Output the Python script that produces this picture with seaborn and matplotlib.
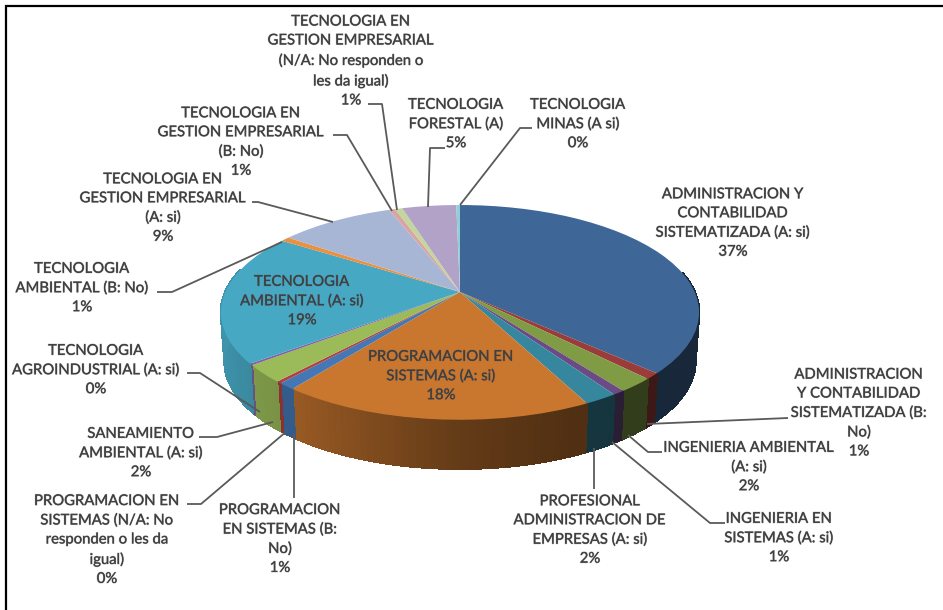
import numpy as np
import matplotlib
matplotlib.use("Agg")
import matplotlib.pyplot as plt
import matplotlib.patheffects as pe
from matplotlib.collections import PolyCollection
from matplotlib.colors import to_rgb
from matplotlib.transforms import Transform
import seaborn as sns

# ---- data ----
labels = [
    "ADMINISTRACION Y\nCONTABILIDAD\nSISTEMATIZADA (A: si)\n37%",
    "ADMINISTRACION\nY CONTABILIDAD\nSISTEMATIZADA (B:\nNo)\n1%",
    "INGENIERIA AMBIENTAL\n(A: si)\n2%",
    "INGENIERIA EN\nSISTEMAS (A: si)\n1%",
    "PROFESIONAL\nADMINISTRACION DE\nEMPRESAS (A: si)\n2%",
    "PROGRAMACION EN\nSISTEMAS (A: si)\n18%",
    "PROGRAMACION\nEN SISTEMAS (B:\nNo)\n1%",
    "PROGRAMACION EN\nSISTEMAS (N/A: No\nresponden o les da\nigual)\n0%",
    "SANEAMIENTO\nAMBIENTAL (A: si)\n2%",
    "TECNOLOGIA\nAGROINDUSTRIAL (A: si)\n0%",
    "TECNOLOGIA\nAMBIENTAL (A: si)\n19%",
    "TECNOLOGIA\nAMBIENTAL (B: No)\n1%",
    "TECNOLOGIA EN\nGESTION EMPRESARIAL\n(A: si)\n9%",
    "TECNOLOGIA EN\nGESTION EMPRESARIAL\n(B: No)\n1%",
    "TECNOLOGIA EN\nGESTION EMPRESARIAL\n(N/A: No responden o\nles da igual)\n1%",
    "TECNOLOGIA\nFORESTAL (A)\n5%",
    "TECNOLOGIA\nMINAS (A si)\n0%",
]
values = [37.0, 0.9, 2.1, 0.7, 1.9, 17.8, 1.0, 0.3, 2.6, 0.25, 19.7, 0.7, 9.3, 0.5, 0.6, 4.4, 0.3]

# ---- styling and layout ----
slice_colors = ["#3E6797", "#9A3D3A", "#7F9C45", "#6A4B85", "#36879E", "#C9772F",
                "#4477B4", "#B04040", "#9BBB59", "#8064A2", "#47A8C3", "#EC8F3F",
                "#A6B6D4", "#D9A5A4", "#C3D69B", "#B3A2C7", "#92CDDC"]
label_xy = [(733, 223), (859, 413), (749, 467), (779, 538), (590, 530), (441, 376),
            (280, 539), (107, 540), (141, 453), (96, 370), (302, 301), (82, 288),
            (163, 208), (241, 142), (351, 61), (456, 124), (578, 124)]
leaders = [
    [(788, 418), (647, 424)],
    [(662, 452), (648, 452), (628, 435)],
    [(725, 523), (710, 523), (612, 442)],
    [(594, 489), (594, 448)],
    [(294, 498), (294, 433)],
    [(187, 504), (201, 504), (287, 431)],
    [(199, 437), (217, 437), (273, 422)],
    [(187, 373), (200, 373), (260, 412)],
    [(157, 292), (172, 292), (282, 242)],
    [(252, 202), (258, 202), (333, 222)],
    [(333, 135), (347, 135), (392, 211)],
    [(368, 104), (382, 104), (397, 210)],
    [(445, 148), (430, 148), (428, 207)],
    [(532, 128), (520, 128), (460, 205)],
]
CX, CY = 460.0, 292.0     # pie apex in pixels
AX, BY, K = 234.7, 103.5, 0.19   # perspective of the tilted disc
DEPTH, BOTTOM_SCALE = 49.0, 0.985
TEXT = "#404040"
LINE = "#5A5A5A"

sns.set_theme(style="white")
plt.rcParams["font.family"] = ["Lato", "DejaVu Sans"]
palette = sns.color_palette(slice_colors)


class Tilt(Transform):
    input_dims = output_dims = 2

    def transform_non_affine(self, v):
        v = np.asarray(v, float)
        d = 1 + K * v[:, 1]
        return np.column_stack([CX + AX * v[:, 0] / d, CY - BY * v[:, 1] / d])


tilt = Tilt()
fig = plt.figure(figsize=(9.43, 6.10), dpi=100)
ax = fig.add_axes([0, 0, 1, 1])
wedges, _ = ax.pie(values, colors=palette, startangle=90, counterclock=False,
                   radius=1, wedgeprops={"linewidth": 0})
ax.set_aspect("auto")
ax.set_xlim(0, 943)
ax.set_ylim(610, 0)
for w in wedges:
    w.set_transform(tilt + ax.transData)
    w.set_zorder(3)

# side wall of the disc, shaded by horizontal position
edges = np.cumsum([0] + values) / sum(values) * 2 * np.pi
polys, cols = [], []
for i, col in enumerate(palette):
    n = max(2, int((edges[i + 1] - edges[i]) / np.radians(1.5)) + 1)
    th = np.linspace(edges[i], edges[i + 1], n + 1)
    p = tilt.transform(np.column_stack([np.sin(th), np.cos(th)]))
    for a, b, t in zip(p[:-1], p[1:], th[:-1]):
        if np.cos(t) > 0.2:
            continue
        a2 = (CX + (a[0] - CX) * BOTTOM_SCALE, a[1] + DEPTH)
        b2 = (CX + (b[0] - CX) * BOTTOM_SCALE, b[1] + DEPTH)
        polys.append([a, b, b2, a2])
        f = np.interp(np.sin(t), [-1, -0.6, 0, 0.4, 1], [0.88, 0.76, 0.5, 0.40, 0.38])
        cols.append(tuple(np.array(to_rgb(col)) * f))
ax.add_collection(PolyCollection(polys, facecolors=cols, edgecolors=cols, linewidths=1.0,
                                 antialiaseds=False, zorder=2))

for pts in leaders:
    xs, ys = zip(*pts)
    ax.plot(xs, ys, color=LINE, lw=1.3, zorder=4, solid_capstyle="butt")

soft = [pe.withStroke(linewidth=0.8, foreground=(0.3, 0.3, 0.35, 0.3))]
for text, (x, y) in zip(labels, label_xy):
    ax.text(x, y, text, ha="center", va="center", fontsize=10.7, color=TEXT,
            linespacing=1.45, zorder=5, path_effects=soft)

# frame remains only on the left and top of the picture
ax.plot([6, 6, 943], [610, 6, 6], color="black", lw=1.6, zorder=6, solid_joinstyle="miter")

fig.savefig("out.png", dpi=100, facecolor="white")
